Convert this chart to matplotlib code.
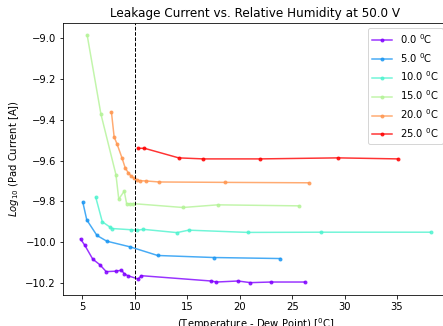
import numpy as np
import matplotlib
matplotlib.use("Agg")
import matplotlib.pyplot as plt

# Temperature - dew point [C] and log10 pad current, one pair per chuck temperature
temps = [0.0, 5.0, 10.0, 15.0, 20.0, 25.0]

dt_0 = [4.81, 5.22, 5.98, 6.65, 7.26, 8.17, 8.72, 9.00, 9.32, 10.31, 10.62,
        17.27, 17.77, 19.84, 21.02, 22.99, 26.23]
cur_0 = [-9.984, -10.015, -10.083, -10.110, -10.144, -10.142, -10.137, -10.155, -10.164,
         -10.180, -10.164, -10.190, -10.195, -10.190, -10.198, -10.195, -10.195]

dt_5 = [5.03, 5.41, 6.38, 7.32, 9.56, 12.17, 17.52, 23.88]
cur_5 = [-9.804, -9.891, -9.967, -9.995, -10.023, -10.065, -10.075, -10.080]

dt_10 = [6.27, 6.89, 7.60, 7.83, 9.64, 10.22, 10.80, 14.01, 15.13, 20.78, 27.72, 38.20]
cur_10 = [-9.781, -9.900, -9.925, -9.933, -9.939, -9.941, -9.937, -9.953, -9.941,
          -9.952, -9.951, -9.951]

dt_15 = [5.45, 6.76, 8.19, 8.46, 8.98, 9.21, 9.53, 9.83, 14.58, 17.90, 25.69]
cur_15 = [-8.987, -9.373, -9.669, -9.789, -9.750, -9.811, -9.812, -9.811, -9.830,
          -9.817, -9.822]

dt_20 = [7.76, 8.02, 8.29, 8.78, 9.08, 9.36, 9.60, 9.89, 10.18, 10.46, 11.05, 12.31,
         18.57, 26.61]
cur_20 = [-9.362, -9.485, -9.518, -9.589, -9.637, -9.659, -9.674, -9.686, -9.695,
          -9.699, -9.700, -9.705, -9.707, -9.709]

dt_25 = [10.27, 10.91, 14.18, 16.53, 21.94, 29.38, 35.12]
cur_25 = [-9.540, -9.540, -9.587, -9.592, -9.592, -9.587, -9.592]

xs = [dt_0, dt_5, dt_10, dt_15, dt_20, dt_25]
ys = [cur_0, cur_5, cur_10, cur_15, cur_20, cur_25]

fig = plt.figure(figsize=(443 / 72, 326 / 72), dpi=72)
ax = fig.add_axes([63 / 443, 1 - 295 / 326, 385 / 443, 272 / 326])

colors = plt.cm.rainbow(np.linspace(0, 1, len(temps)))
for t, x, y, c in zip(temps, xs, ys, colors):
    ax.plot(x, y, marker='o', markersize=3, lw=1.5, color=c, alpha=0.8,
            label=f"{t:.1f} $^{{0}}$C")

ax.axvline(10, color="black", ls="--", lw=1)

ax.set_title("Leakage Current vs. Relative Humidity at 50.0 V")
ax.set_xlabel("(Temperature - Dew Point) [$^{0}$C]")
ax.set_ylabel("$Log_{10}$ (Pad Current [A])")
ax.set_xticks([5, 10, 15, 20, 25, 30, 35])
ax.legend(loc="upper right")

fig.savefig("out.png", dpi=72)
